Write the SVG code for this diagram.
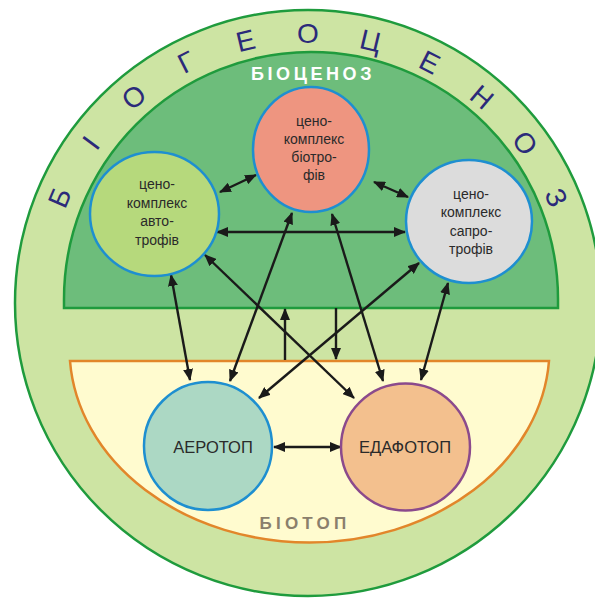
<svg xmlns="http://www.w3.org/2000/svg" width="595" height="600" viewBox="0 0 595 600">
<defs>
<style>
.node-text{font-family:"Liberation Sans",Arial,sans-serif;font-size:14px;fill:#2a2a2a;text-anchor:middle}
.big-text{font-family:"Liberation Sans",Arial,sans-serif;font-size:16.5px;fill:#2a2a2a;text-anchor:middle}
.ring{font-family:"Liberation Sans",Arial,sans-serif;font-size:28px;fill:#2b2a7a;text-anchor:middle}
.conn{stroke:#1a1a1a;stroke-width:2.4;fill:none}
.bi{marker-start:url(#ah);marker-end:url(#ah)}
.uni{marker-end:url(#ah)}
</style>
<marker id="ah" viewBox="0 0 12 10" refX="11" refY="5" markerWidth="12" markerHeight="10" markerUnits="userSpaceOnUse" orient="auto-start-reverse">
<path d="M0,0 L12,5 L0,10 Z" fill="#1a1a1a"/>
</marker>
</defs>
<rect width="595" height="600" fill="#ffffff"/>
<g id="biogeocenosis">
<circle cx="308" cy="303" r="293" fill="#cde4a3" stroke="#1f9b3d" stroke-width="2.5"/>
<g class="ring">
<text x="308" y="43" transform="rotate(-67 308 303)">Б</text>
<text x="308" y="43" transform="rotate(-53.6 308 303)">І</text>
<text x="308" y="43" transform="rotate(-40.2 308 303)">О</text>
<text x="308" y="43" transform="rotate(-26.8 308 303)">Г</text>
<text x="308" y="43" transform="rotate(-13.4 308 303)">Е</text>
<text x="308" y="43" transform="rotate(0 308 303)">О</text>
<text x="308" y="43" transform="rotate(13.4 308 303)">Ц</text>
<text x="308" y="43" transform="rotate(26.8 308 303)">Е</text>
<text x="308" y="43" transform="rotate(40.2 308 303)">Н</text>
<text x="308" y="43" transform="rotate(53.6 308 303)">О</text>
<text x="308" y="43" transform="rotate(67 308 303)">З</text>
</g>
</g>
<g id="biocenosis">
<path d="M64,308 L64,299 A247,247 0 0 1 558,299 L558,308 Z" fill="#6dbd7b" stroke="#1f9b3d" stroke-width="2.5"/>
<text x="313" y="80" font-family="Liberation Sans,Arial,sans-serif" font-size="18" font-weight="bold" fill="#ffffff" text-anchor="middle" letter-spacing="3.6">БІОЦЕНОЗ</text>
</g>
<g id="biotope">
<path d="M70,361 L549,361 A240,194 0 0 1 70,361 Z" fill="#fffbcf" stroke="#e2862a" stroke-width="2.5"/>
<text x="305" y="529" font-family="Liberation Sans,Arial,sans-serif" font-size="17" font-weight="bold" fill="#8a7f6c" text-anchor="middle" letter-spacing="4.2">БІОТОП</text>
</g>
<g id="connectors">
<line class="conn bi" x1="220" y1="192" x2="256" y2="175"/>
<line class="conn bi" x1="374" y1="182" x2="408" y2="197"/>
<line class="conn bi" x1="217" y1="232" x2="405" y2="232"/>
<line class="conn bi" x1="171" y1="275" x2="190" y2="380"/>
<line class="conn bi" x1="292" y1="213" x2="230" y2="381"/>
<line class="conn bi" x1="332" y1="214" x2="383" y2="381"/>
<line class="conn bi" x1="448" y1="283" x2="421" y2="380"/>
<line class="conn bi" x1="205" y1="255" x2="354" y2="398"/>
<line class="conn bi" x1="419" y1="263" x2="259" y2="398"/>
<line class="conn uni" x1="285" y1="360" x2="285" y2="309"/>
<line class="conn uni" x1="336" y1="308" x2="336" y2="359"/>
<line class="conn bi" x1="274" y1="447" x2="341" y2="447"/>
</g>
<g id="autotrophs">
<ellipse cx="154.5" cy="214" rx="64.5" ry="62" fill="#b6d97c" stroke="#1e8fd0" stroke-width="2.5"/>
<text class="node-text"><tspan x="157" y="189">цено-</tspan><tspan x="157" y="207.5">комплекс</tspan><tspan x="157" y="226">авто-</tspan><tspan x="157" y="244.5">трофів</tspan></text>
</g>
<g id="biotrophs">
<ellipse cx="311" cy="149.5" rx="58" ry="62.5" fill="#ee9580" stroke="#1e8fd0" stroke-width="2.5"/>
<text class="node-text"><tspan x="314" y="126">цено-</tspan><tspan x="314" y="144">комплекс</tspan><tspan x="314" y="162">біотро-</tspan><tspan x="314" y="180">фів</tspan></text>
</g>
<g id="saprotrophs">
<ellipse cx="469" cy="221.5" rx="63" ry="61.5" fill="#dcdcdc" stroke="#1e8fd0" stroke-width="2.5"/>
<text class="node-text"><tspan x="471" y="199">цено-</tspan><tspan x="471" y="217">комплекс</tspan><tspan x="471" y="236">сапро-</tspan><tspan x="471" y="254">трофів</tspan></text>
</g>
<g id="aerotop">
<ellipse cx="208" cy="446" rx="64" ry="64" fill="#acd8c4" stroke="#1e8fd0" stroke-width="2.5"/>
<text class="big-text" x="213" y="453">АЕРОТОП</text>
</g>
<g id="edaphotop">
<ellipse cx="405.5" cy="447" rx="64.5" ry="63.5" fill="#f3c08e" stroke="#8b4a8c" stroke-width="2.5"/>
<text class="big-text" x="405" y="453">ЕДАФОТОП</text>
</g>
</svg>
